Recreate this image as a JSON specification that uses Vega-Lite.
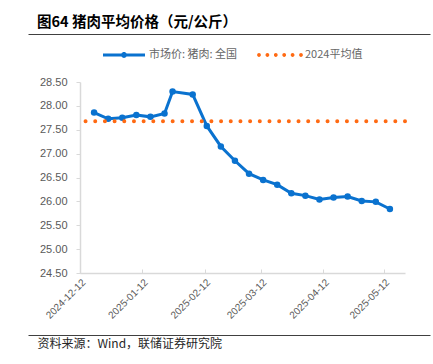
{
  "$schema": "https://vega.github.io/schema/vega-lite/v6.json",
  "width": 325,
  "height": 191,
  "autosize": {"type": "none"},
  "padding": {"left": 80, "top": 82, "right": 28, "bottom": 91},
  "background": "white",
  "config": {
    "view": {"stroke": null},
    "font": "Liberation Sans",
    "axis": {"labelOverlap": false}
  },
  "title": {
    "text": "图64 猪肉平均价格（元/公斤）",
    "anchor": "start",
    "frame": "group",
    "dx": -43,
    "offset": 4,
    "fontSize": 14.5,
    "fontWeight": "bold",
    "font": "Noto Sans CJK SC",
    "color": "#000000"
  },
  "resolve": {"scale": {"x": "independent"}, "axis": {"x": "independent"}},
  "layer": [
    {
      "data": {"values": [
        {"date": "2024-12-19T00:00:00", "price": 27.86, "series": "市场价: 猪肉: 全国"},
        {"date": "2024-12-26T00:00:00", "price": 27.73, "series": "市场价: 猪肉: 全国"},
        {"date": "2025-01-02T00:00:00", "price": 27.75, "series": "市场价: 猪肉: 全国"},
        {"date": "2025-01-09T00:00:00", "price": 27.81, "series": "市场价: 猪肉: 全国"},
        {"date": "2025-01-16T00:00:00", "price": 27.77, "series": "市场价: 猪肉: 全国"},
        {"date": "2025-01-23T00:00:00", "price": 27.84, "series": "市场价: 猪肉: 全国"},
        {"date": "2025-01-27T00:00:00", "price": 28.30, "series": "市场价: 猪肉: 全国"},
        {"date": "2025-02-06T00:00:00", "price": 28.24, "series": "市场价: 猪肉: 全国"},
        {"date": "2025-02-13T00:00:00", "price": 27.58, "series": "市场价: 猪肉: 全国"},
        {"date": "2025-02-20T00:00:00", "price": 27.15, "series": "市场价: 猪肉: 全国"},
        {"date": "2025-02-27T00:00:00", "price": 26.85, "series": "市场价: 猪肉: 全国"},
        {"date": "2025-03-06T00:00:00", "price": 26.58, "series": "市场价: 猪肉: 全国"},
        {"date": "2025-03-13T00:00:00", "price": 26.45, "series": "市场价: 猪肉: 全国"},
        {"date": "2025-03-20T00:00:00", "price": 26.35, "series": "市场价: 猪肉: 全国"},
        {"date": "2025-03-27T00:00:00", "price": 26.17, "series": "市场价: 猪肉: 全国"},
        {"date": "2025-04-03T00:00:00", "price": 26.12, "series": "市场价: 猪肉: 全国"},
        {"date": "2025-04-10T00:00:00", "price": 26.04, "series": "市场价: 猪肉: 全国"},
        {"date": "2025-04-17T00:00:00", "price": 26.08, "series": "市场价: 猪肉: 全国"},
        {"date": "2025-04-24T00:00:00", "price": 26.10, "series": "市场价: 猪肉: 全国"},
        {"date": "2025-05-01T00:00:00", "price": 26.01, "series": "市场价: 猪肉: 全国"},
        {"date": "2025-05-08T00:00:00", "price": 25.99, "series": "市场价: 猪肉: 全国"},
        {"date": "2025-05-15T00:00:00", "price": 25.84, "series": "市场价: 猪肉: 全国"}
      ]},
      "mark": {"type": "line", "strokeWidth": 3, "point": {"filled": true, "size": 42, "opacity": 1}},
      "encoding": {
        "x": {
          "field": "date",
          "type": "temporal",
          "scale": {"domain": [
            {"year": 2024, "month": 12, "date": 12},
            {"year": 2025, "month": 5, "date": 22, "hours": 12}
          ], "nice": false},
          "axis": {
            "orient": "bottom",
            "values": [
              {"year": 2024, "month": 12, "date": 12},
              {"year": 2025, "month": 1, "date": 12},
              {"year": 2025, "month": 2, "date": 12},
              {"year": 2025, "month": 3, "date": 12},
              {"year": 2025, "month": 4, "date": 12},
              {"year": 2025, "month": 5, "date": 12}
            ],
            "tickCount": 20,
            "format": "%Y-%m-%d",
            "labelAngle": -45,
            "labelFontSize": 10,
            "labelColor": "#595959",
            "labelPadding": 8,
            "domainColor": "#d9d9d9",
            "domainWidth": 1.5,
            "tickColor": "#d9d9d9",
            "tickSize": -4,
            "grid": false,
            "title": "资料来源：Wind，联储证券研究院",
            "titleFont": "Noto Sans CJK SC",
            "titleFontSize": 12,
            "titleFontWeight": "normal",
            "titleColor": "#262626",
            "titleAnchor": "start",
            "titleAlign": "left",
            "titleBaseline": "alphabetic",
            "titleX": -43,
            "titleY": 74
          }
        },
        "y": {
          "field": "price",
          "type": "quantitative",
          "scale": {"domain": [24.5, 28.5], "nice": false, "zero": false},
          "axis": {
            "values": [24.5, 25, 25.5, 26, 26.5, 27, 27.5, 28, 28.5],
            "tickCount": 20,
            "format": ".2f",
            "labelFontSize": 11,
            "labelColor": "#595959",
            "labelPadding": 9,
            "labelOverlap": false,
            "domainColor": "#d9d9d9",
            "domainWidth": 1.5,
            "tickColor": "#d9d9d9",
            "tickSize": 4,
            "grid": false,
            "title": null
          }
        },
        "color": {
          "field": "series",
          "type": "nominal",
          "scale": {"domain": ["市场价: 猪肉: 全国", "2024平均值"], "range": ["#0A72CF", "#FF6A13"]},
          "legend": {
            "title": null,
            "orient": "none",
            "direction": "horizontal",
            "legendX": 23,
            "legendY": -48,
            "padding": 0,
            "symbolSize": 1764,
            "labelOffset": 4,
            "columnPadding": 19,
            "labelFont": "Noto Sans CJK SC",
            "labelFontSize": 11,
            "labelColor": "#666666",
            "encode": {
              "symbols": {
                "update": {
                  "shape": {"signal": "datum.value == '2024平均值' ? 'M-1.09,0A0.09,0.09 0 1,0 -0.91,0A0.09,0.09 0 1,0 -1.09,0ZM-0.69,0A0.09,0.09 0 1,0 -0.51,0A0.09,0.09 0 1,0 -0.69,0ZM-0.29,0A0.09,0.09 0 1,0 -0.11,0A0.09,0.09 0 1,0 -0.29,0ZM0.11,0A0.09,0.09 0 1,0 0.29,0A0.09,0.09 0 1,0 0.11,0ZM0.51,0A0.09,0.09 0 1,0 0.69,0A0.09,0.09 0 1,0 0.51,0ZM0.91,0A0.09,0.09 0 1,0 1.09,0A0.09,0.09 0 1,0 0.91,0Z' : 'M-1,-0.07H-0.12A0.14,0.14 0 0 1 0.12,-0.07H1V0.07H0.12A0.14,0.14 0 0 1 -0.12,0.07H-1Z'"},
                  "fill": {"signal": "datum.value == '2024平均值' ? '#FF6A13' : '#0A72CF'"},
                  "fillOpacity": {"value": 1},
                  "opacity": {"value": 1},
                  "strokeWidth": {"value": 0},
                  "size": {"value": 1764}
                }
              }
            }
          }
        }
      }
    },
    {
      "data": {"values": [{"avg": 27.68, "series": "2024平均值"}]},
      "mark": {"type": "rule", "strokeWidth": 4, "strokeCap": "round", "strokeDash": [0.01, 9.67]},
      "encoding": {
        "y": {"field": "avg", "type": "quantitative"},
        "color": {"field": "series", "type": "nominal"}
      }
    },
    {
      "data": {"values": [{"s": 0}, {"s": 1}]},
      "mark": {"type": "point", "opacity": 1, "size": 0, "color": "white"},
      "encoding": {
        "x": {
          "field": "s",
          "type": "quantitative",
          "scale": {"domain": [0, 1], "range": [-52, 350]},
          "axis": {"orient": "top", "offset": 48, "labels": false, "ticks": false, "grid": false, "title": null, "domain": true, "domainColor": "#404040", "domainWidth": 1}
        }
      }
    },
    {
      "data": {"values": [{"t": 0}, {"t": 1}]},
      "mark": {"type": "point", "opacity": 1, "size": 0, "color": "white"},
      "encoding": {
        "x": {
          "field": "t",
          "type": "quantitative",
          "scale": {"domain": [0, 1], "range": [-52, 350]},
          "axis": {"orient": "bottom", "offset": 62, "labels": false, "ticks": false, "grid": false, "title": null, "domain": true, "domainColor": "#404040", "domainWidth": 1}
        }
      }
    }
  ]
}
